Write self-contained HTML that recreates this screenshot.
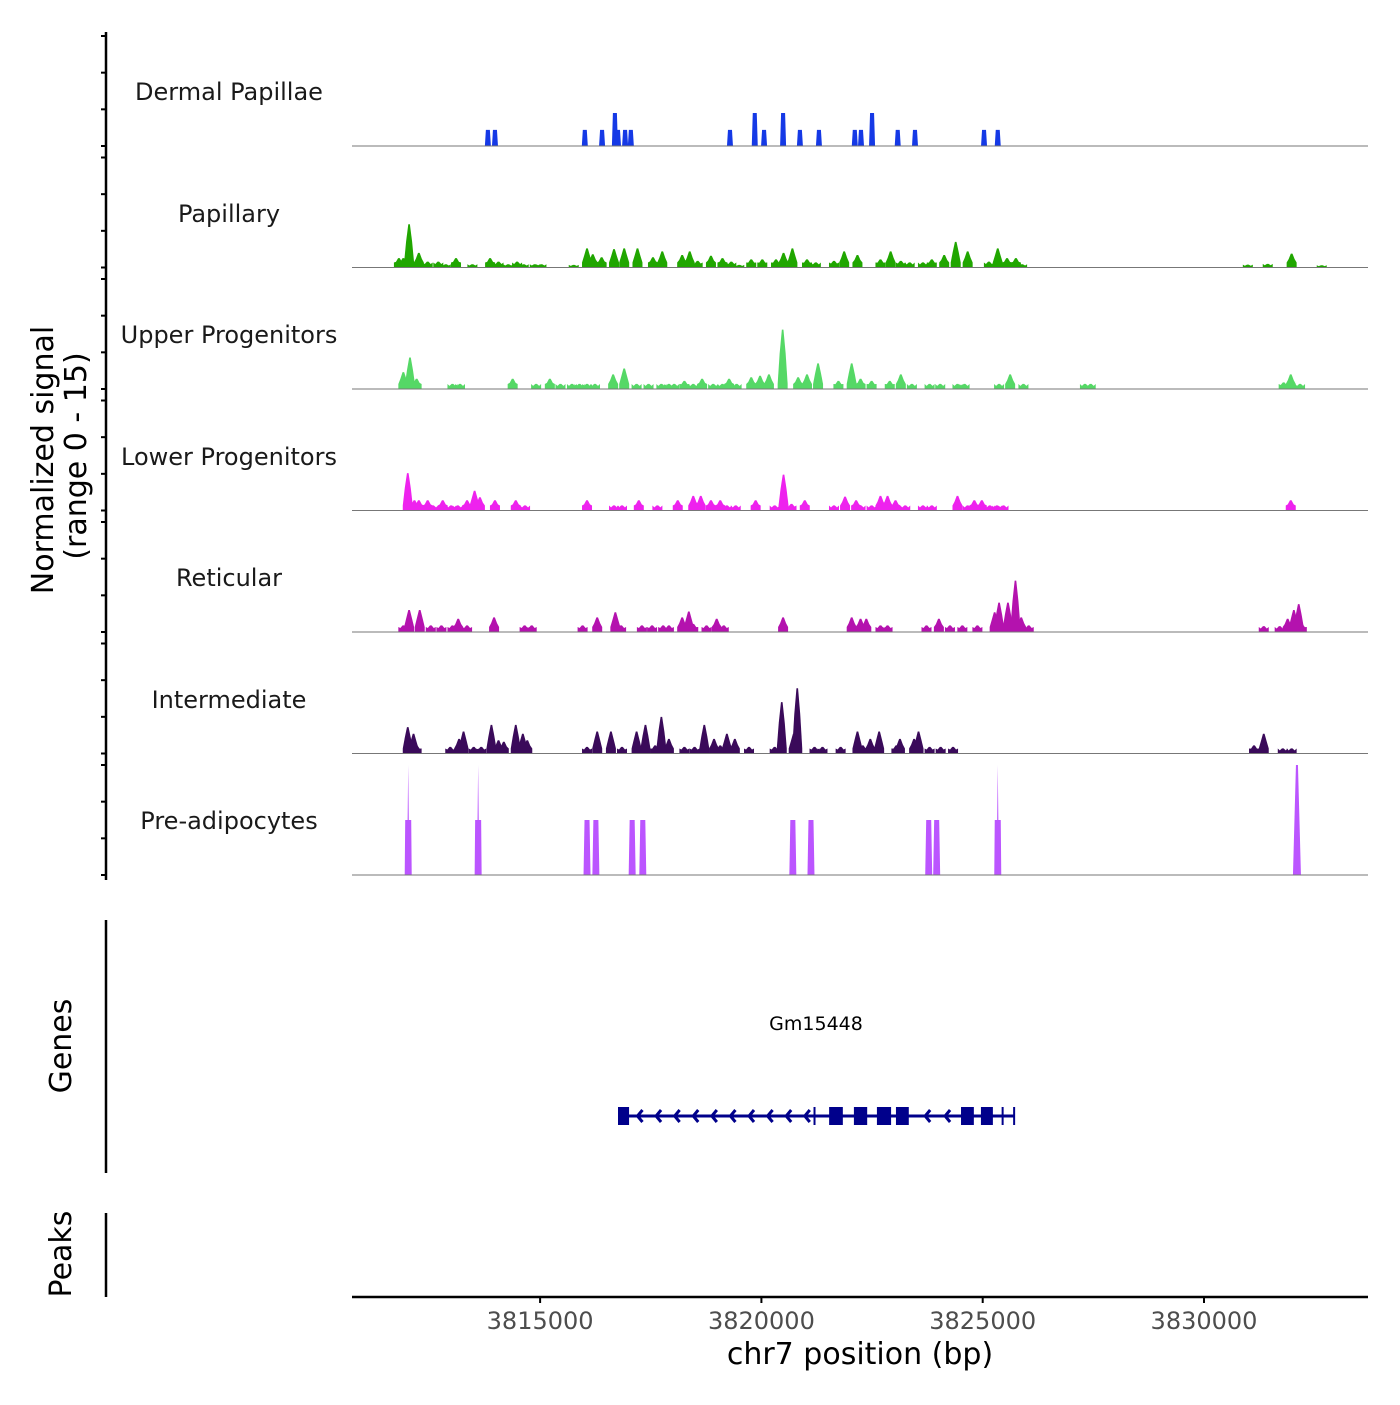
<!DOCTYPE html>
<html><head><meta charset="utf-8"><style>
html,body{margin:0;padding:0;background:#fff;}
svg text{font-family:"DejaVu Sans","Liberation Sans",sans-serif;}
</style></head><body>
<svg id="chart" width="1400" height="1400" viewBox="0 0 1400 1400" xmlns="http://www.w3.org/2000/svg">
<rect width="1400" height="1400" fill="#fff"/>
<g id="tracks"></g>
<g id="axes"></g>
<g id="genes"></g>
</svg>
<script>
const groupNames = ["Dermal Papillae","Papillary","Upper Progenitors","Lower Progenitors","Reticular","Intermediate","Pre-adipocytes"];
const groupColors = ["#1539e6","#20a600","#55d866","#ee22ee","#b412ae","#3a0a5a","#bb55ff"];
const dpPos = [3813.82,3813.98,3816.01,3816.40,3816.69,3816.76,3816.92,3817.05,3819.29,3819.85,3820.06,3820.49,3820.87,3821.30,3822.11,3822.25,3822.50,3823.08,3823.47,3825.03,3825.34];
const dpVal = [2.2,2.2,2.2,2.2,4.5,2.2,2.2,2.2,2.2,4.5,2.2,4.5,2.2,2.2,2.2,2.2,4.5,2.2,2.2,2.2,2.2];
const papPos = [3811.81,3811.91,3812.04,3812.26,3812.46,3812.70,3812.87,3813.10,3813.47,3813.87,3814.06,3814.28,3814.48,3814.63,3814.88,3815.03,3815.76,3816.06,3816.19,3816.39,3816.67,3816.90,3817.20,3817.55,3817.76,3818.21,3818.38,3818.56,3818.86,3819.12,3819.32,3819.50,3819.77,3820.02,3820.33,3820.50,3820.70,3821.03,3821.23,3821.64,3821.87,3822.17,3822.69,3822.92,3823.15,3823.35,3823.65,3823.85,3824.13,3824.39,3824.66,3825.14,3825.34,3825.55,3825.75,3825.89,3830.99,3831.44,3831.98,3832.66];
const papVal = [1.27,1.27,5.9,2.0,0.8,0.8,0.45,1.27,0.45,1.27,0.8,0.45,0.8,0.45,0.45,0.45,0.36,2.6,1.8,1.4,2.5,2.6,2.6,1.4,2.2,1.7,2.2,0.9,1.6,1.27,0.8,0.36,1.1,1.1,1.1,2.0,2.6,1.1,0.7,0.9,2.2,1.7,1.1,2.2,0.9,0.7,0.7,1.1,1.7,3.5,2.2,0.8,2.6,1.27,1.27,0.45,0.4,0.5,1.9,0.3];
const upPos = [3811.91,3812.06,3812.21,3813.02,3813.19,3814.38,3814.91,3815.22,3815.46,3815.72,3815.89,3816.06,3816.24,3816.65,3816.90,3817.18,3817.45,3817.74,3817.91,3818.03,3818.26,3818.46,3818.66,3818.91,3819.12,3819.27,3819.44,3819.77,3819.97,3820.17,3820.48,3820.83,3821.03,3821.28,3821.74,3822.04,3822.24,3822.49,3822.90,3823.15,3823.40,3823.80,3824.04,3824.43,3824.59,3825.37,3825.62,3825.92,3827.31,3827.44,3831.80,3831.96,3832.17];
const upVal = [2.3,4.3,1.4,0.7,0.7,1.4,0.7,1.4,0.7,0.7,0.7,0.7,0.7,2.0,2.8,0.7,0.7,0.7,0.7,0.7,1.1,0.7,1.4,0.7,0.7,1.4,0.7,1.6,1.8,2.0,8.1,1.6,2.0,3.5,1.1,3.5,1.4,1.1,1.1,2.0,0.7,0.7,0.7,0.7,0.7,0.7,2.0,0.7,0.7,0.7,0.9,2.0,0.7];
const lowPos = [3812.01,3812.16,3812.26,3812.46,3812.58,3812.80,3812.99,3813.14,3813.35,3813.52,3813.64,3813.98,3814.45,3814.66,3816.06,3816.67,3816.85,3817.23,3817.65,3818.11,3818.46,3818.63,3818.86,3819.07,3819.22,3819.42,3819.87,3820.30,3820.50,3820.68,3820.98,3821.64,3821.89,3822.14,3822.24,3822.49,3822.69,3822.85,3823.03,3823.25,3823.65,3823.85,3824.43,3824.66,3824.81,3824.98,3825.16,3825.32,3825.47,3831.96];
const lowVal = [5.1,1.4,1.4,1.4,0.7,1.4,0.7,0.7,1.4,2.7,1.8,1.4,1.4,0.7,1.4,0.7,0.7,1.4,0.7,1.4,2.0,2.0,1.4,1.4,0.7,0.7,1.4,0.7,4.9,0.9,1.4,0.7,1.9,1.4,0.7,0.7,2.0,2.0,1.4,0.7,0.7,0.7,2.0,0.7,1.4,1.4,0.7,0.7,0.7,1.4];
const retPos = [3811.91,3812.04,3812.28,3812.53,3812.77,3813.02,3813.15,3813.35,3813.96,3814.65,3814.81,3815.96,3816.29,3816.70,3816.83,3817.30,3817.53,3817.78,3817.91,3818.21,3818.36,3818.46,3818.76,3818.99,3819.15,3820.49,3822.04,3822.24,3822.37,3822.69,3822.85,3823.73,3824.01,3824.26,3824.54,3824.88,3825.27,3825.37,3825.57,3825.74,3825.87,3826.04,3831.35,3831.71,3831.89,3832.03,3832.14,3832.21];
const retVal = [0.9,3.0,3.0,0.9,0.9,0.9,1.8,0.9,2.0,0.9,0.9,0.9,2.0,2.7,0.9,0.9,0.9,0.9,0.9,2.0,2.8,1.1,0.9,1.8,0.9,2.0,2.0,1.8,1.8,0.9,0.9,0.9,1.8,0.9,0.9,0.9,2.7,4.0,4.0,7.0,2.0,0.9,0.8,0.8,1.8,3.0,3.8,1.1];
const intPos = [3812.01,3812.14,3812.21,3812.97,3813.17,3813.27,3813.50,3813.67,3813.90,3814.06,3814.18,3814.45,3814.61,3814.71,3816.06,3816.29,3816.60,3816.85,3817.18,3817.38,3817.60,3817.74,3817.91,3818.26,3818.49,3818.71,3818.93,3819.07,3819.22,3819.40,3819.72,3820.30,3820.46,3820.73,3820.81,3821.20,3821.38,3821.79,3822.17,3822.29,3822.46,3822.66,3823.05,3823.13,3823.45,3823.55,3823.80,3824.05,3824.33,3831.13,3831.35,3831.78,3831.98];
const intVal = [3.6,2.7,1.1,0.9,2.0,3.0,0.9,0.9,3.9,1.8,1.6,3.9,2.7,1.8,0.9,3.0,3.0,0.9,3.0,3.9,1.1,5.0,2.0,0.9,0.9,3.9,2.0,1.1,2.7,2.0,0.9,0.9,7.0,2.7,8.9,0.9,0.9,0.9,3.0,1.1,2.0,3.0,1.1,2.0,2.0,3.0,0.9,0.9,0.9,1.1,2.7,0.7,0.7];
const prePos = [3812.02,3813.60,3816.06,3816.26,3817.08,3817.32,3820.71,3821.12,3823.78,3823.96,3825.34,3832.10];
const preVal = [7.5,7.5,7.5,7.5,7.5,7.5,7.5,7.5,7.5,7.5,7.5,15];
const preSpike = [15,15,0,0,0,0,0,0,0,0,15,15];
const xTicks = [3815000,3820000,3825000,3830000];
const exonStart = [3816.76,3821.53,3822.09,3822.61,3823.04,3824.51,3824.96];
const exonEnd = [3817.01,3821.84,3822.39,3822.93,3823.33,3824.80,3825.23];
const geneStart = 3816.76, geneEnd = 3825.71;

const NS="http://www.w3.org/2000/svg";
const X0=352, X1=1368, KB0=3810.75, PXKB=44.26;
const xs = kb => X0 + (kb-KB0)*PXKB;
const bases=[146,267.5,389,510.5,632,753.5,875];
const ys = (v,i) => bases[i] - v*110/15;
function mk(tag,attrs,parent){const e=document.createElementNS(NS,tag);for(const k in attrs)e.setAttribute(k,attrs[k]);parent.appendChild(e);return e;}
const tracks=document.getElementById('tracks'), axes=document.getElementById('axes'), genes=document.getElementById('genes');
const posArr=[dpPos,papPos,upPos,lowPos,retPos,intPos,prePos], valArr=[dpVal,papVal,upVal,lowVal,retVal,intVal,preVal];
const labelY=[92,214,335,457,578,700,821];
for(let i=0;i<7;i++){
  const g=mk('g',{},tracks);
  
  
  const t=mk('text',{x:229,y:labelY[i]+8,'text-anchor':'middle','font-size':24,fill:'#1a1a1a'},g);
  t.textContent=groupNames[i];
  
  
  const b=bases[i];
  for(let j=0;j<posArr[i].length;j++){
    const x=xs(posArr[i][j]), y=ys(valArr[i][j],i);
    let pts;
    if(i===0) pts=[[x-3,b],[x-2,y],[x+2,y],[x+3,b]];
    else if(i===6){
      const sp=preSpike[j];
      if(valArr[i][j]>=15) pts=[[x-4,b],[x-1,y],[x+1,y],[x+4,b]];
      else if(sp>0) pts=[[x-3.5,b],[x-3,y],[x-0.6,y],[x,ys(sp,i)],[x+0.6,y],[x+3,y],[x+3.5,b]];
      else pts=[[x-3.5,b],[x-2.5,y],[x+2.5,y],[x+3.5,b]];
    } else {
      const h=b-y;
      pts=[[x-5,b],[x-5,b-Math.min(h,5)],[x-3,b-h*0.6],[x-0.8,y],[x+0.8,y],[x+3,b-h*0.6],[x+5,b-Math.min(h,5)],[x+5,b]];
    }
    const p=mk('polygon',{points:pts.map(q=>q.join(',')).join(' '),fill:groupColors[i]},g);
    
    
  }
  const bl=mk('line',{x1:X0,x2:X1,y1:b,y2:b,stroke:'#777','stroke-width':1},g);
  
  
  for(let v=0;v<=15;v+=5){
    const ty=ys(v,i);
    const tk=mk('line',{x1:101,x2:106,y1:ty,y2:ty,stroke:'#000','stroke-width':2},axes);
    
    
  }
}
[[32,880],[920,1173],[1213,1297]].forEach(([a,b])=>{
  const l=mk('line',{x1:106,x2:106,y1:a,y2:b,stroke:'#000','stroke-width':2.5},axes);
  
  
});
let yt=mk('text',{transform:'translate(53,460) rotate(-90)','text-anchor':'middle','font-size':30,fill:'#000'},axes);
yt.textContent='Normalized signal';


yt=mk('text',{transform:'translate(86,456) rotate(-90)','text-anchor':'middle','font-size':30,fill:'#000'},axes);
yt.textContent='(range 0 - 15)';


yt=mk('text',{transform:'translate(71,1046) rotate(-90)','text-anchor':'middle','font-size':30,fill:'#000'},axes);
yt.textContent='Genes';


yt=mk('text',{transform:'translate(71,1254) rotate(-90)','text-anchor':'middle','font-size':30,fill:'#000'},axes);
yt.textContent='Peaks';


const xl=mk('line',{x1:X0,x2:X1,y1:1297,y2:1297,stroke:'#000','stroke-width':2.5},axes);


xTicks.forEach(v=>{
  const x=xs(v/1000);
  const tk=mk('line',{x1:x,x2:x,y1:1297,y2:1303,stroke:'#000','stroke-width':2},axes);
  
  
  const tl=mk('text',{x:x,y:1329,'text-anchor':'middle','font-size':24,fill:'#4d4d4d'},axes);
  tl.textContent=String(v);
  
  
});
const xt=mk('text',{x:860,y:1364,'text-anchor':'middle','font-size':30,fill:'#000'},axes);
xt.textContent='chr7 position (bp)';


const GY=1116, C='#00008b';
const gl=mk('line',{x1:xs(geneStart),x2:xs(geneEnd),y1:GY,y2:GY,stroke:C,'stroke-width':3},genes);


for(let k=0;k<exonStart.length;k++){
  const e=mk('rect',{x:xs(exonStart[k]),y:GY-9,width:xs(exonEnd[k])-xs(exonStart[k]),height:18,fill:C},genes);
  
  
}
const arrowKb=[];
for(let kb=3817.2;kb<3821.2;kb+=0.42) arrowKb.push(kb);
[3823.7,3824.15].forEach(v=>arrowKb.push(v));
arrowKb.forEach(kb=>{
  const x=xs(kb);
  const a=mk('polyline',{points:`${x+5},${GY-6} ${x},${GY} ${x+5},${GY+6}`,fill:'none',stroke:C,'stroke-width':3},genes);
  
  
});
[3821.2,3825.45,3825.71].forEach(kb=>{
  const x=xs(kb);
  const v=mk('line',{x1:x,x2:x,y1:GY-9,y2:GY+9,stroke:C,'stroke-width':2},genes);
  
  
});
const gt=mk('text',{x:816,y:1030,'text-anchor':'middle','font-size':19,fill:'#000'},genes);
gt.textContent='Gm15448';


</script>
</body></html>
